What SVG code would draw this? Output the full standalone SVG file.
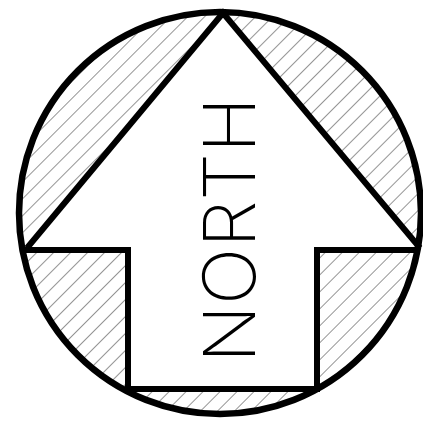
<svg xmlns="http://www.w3.org/2000/svg" width="423" height="425" viewBox="0 0 423 425">
<defs>
<pattern id="hatch" patternUnits="userSpaceOnUse" width="12" height="12" patternTransform="rotate(45)">
<line x1="0" y1="0" x2="0" y2="12" stroke="#7a7a7a" stroke-width="1.6"/>
</pattern>
</defs>
<style>
.outline{fill:none;stroke:#000;stroke-linejoin:miter}
.label{font-family:Inter,"DejaVu Sans",sans-serif;font-weight:200;font-size:72px;fill:#000}
</style>
<rect width="423" height="425" fill="#fff"/>
<g id="hatching">
<path fill="url(#hatch)" fill-rule="evenodd" d="M220,12 a201,201 0 1,0 0.01,0 Z M223,13 L420,250 L317,250 L317,388 L128,388 L128,250 L25,250 Z"/>
</g>
<g id="ring">
<circle cx="220" cy="213" r="201" class="outline" stroke-width="6.5"/>
</g>
<g id="arrow">
<polyline class="outline" stroke-width="6" points="25,250 128,250 128,389 317,389 317,250 420,250"/>
<polyline class="outline" stroke-width="6" points="27,248 223,13 420,248"/>
</g>
<g id="label-north">
<text class="label" transform="translate(255,230) rotate(-90)" text-anchor="middle" textLength="266" lengthAdjust="spacingAndGlyphs">NORTH</text>
</g>
</svg>
